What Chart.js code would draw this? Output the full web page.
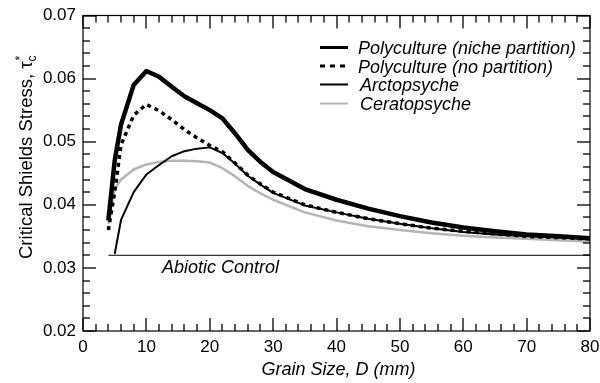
<!DOCTYPE html>
<html lang="en">
<head>
    <meta charset="UTF-8">
    <title>Critical Shields Stress</title>
    <script src="https://cdn.jsdelivr.net/npm/chart.js"></script>
    <style>
        body { margin: 0; background: #fff; }
    </style>
</head>
<body>
    <canvas id="shieldsChart" width="600" height="383"></canvas>

    <script>
    // grain size (mm) and critical Shields stress per treatment
    const grainSize = [4, 5, 6, 8, 10, 12, 14, 16, 18, 20, 22, 24, 26, 28, 30, 35, 40, 45, 50, 55, 60, 65, 70, 75, 80];
    const nichePartition = [0.0375, 0.0470, 0.0527, 0.0590, 0.0612, 0.0603, 0.0587, 0.0572, 0.0561, 0.0550, 0.0537, 0.0513, 0.0487, 0.0468, 0.0452, 0.0425, 0.0408, 0.0394, 0.0382, 0.0372, 0.0364, 0.0358, 0.0353, 0.0350, 0.0347];
    const noPartition = [0.0360, 0.0420, 0.0495, 0.0542, 0.0559, 0.0549, 0.0535, 0.0519, 0.0506, 0.0494, 0.0484, 0.0466, 0.0447, 0.0433, 0.0420, 0.0400, 0.0388, 0.0378, 0.0370, 0.0363, 0.0358, 0.0354, 0.0350, 0.0348, 0.0346];
    const arctopsyche = [null, 0.0322, 0.0376, 0.0420, 0.0448, 0.0463, 0.0477, 0.0485, 0.0489, 0.0491, 0.0482, 0.0465, 0.0446, 0.0432, 0.0419, 0.0399, 0.0388, 0.0378, 0.0370, 0.0363, 0.0357, 0.0353, 0.0350, 0.0348, 0.0346];
    const ceratopsyche = [0.0370, 0.0425, 0.0440, 0.0456, 0.0464, 0.0468, 0.0470, 0.0470, 0.0469, 0.0467, 0.0458, 0.0445, 0.0430, 0.0418, 0.0408, 0.0388, 0.0375, 0.0366, 0.0360, 0.0355, 0.0351, 0.0348, 0.0346, 0.0344, 0.0342];
    const abioticGrain = [4, 80];
    const abioticControl = [0.032, 0.032];

    const legendItems = [
        { label: 'Polyculture (niche partition)', color: '#000', width: 3, dash: [] },
        { label: 'Polyculture (no partition)', color: '#000', width: 3, dash: [5, 5] },
        { label: 'Arctopsyche', color: '#000', width: 2, dash: [] },
        { label: 'Ceratopsyche', color: '#b4b4b4', width: 2, dash: [] }
    ];
    const legendRows = [47.5, 66, 84.5, 103.5];

    const FONT = 'Liberation Sans, Arial, Helvetica, sans-serif';
    Chart.defaults.font.family = FONT;
    Chart.defaults.color = '#000';

    function toPoints(xs, ys) {
        return xs.map((x, i) => ({ x: x, y: ys[i] }));
    }

    const frameAndText = {
        id: 'frameAndText',
        afterDraw(chart) {
            const ctx = chart.ctx;
            const area = chart.chartArea;
            const xs = chart.scales.x;
            const ys = chart.scales.y;
            ctx.save();
            ctx.setLineDash([]);

            // frame
            ctx.strokeStyle = '#000';
            ctx.lineWidth = 1.2;
            ctx.strokeRect(area.left, area.top, area.right - area.left, area.bottom - area.top);

            // inward ticks on all four sides
            ctx.fillStyle = '#000';
            for (let v = 0; v <= 80; v += 2) {
                const px = Math.round(xs.getPixelForValue(v));
                const len = v % 10 === 0 ? 13 : 7;
                ctx.fillRect(px - 0.65, area.bottom - len, 1.3, len);
                ctx.fillRect(px - 0.65, area.top, 1.3, len);
            }
            for (let i = 0; i <= 25; i++) {
                const py = Math.round(ys.getPixelForValue(0.02 + i * 0.002));
                const len = i % 5 === 0 ? 13 : 7;
                ctx.fillRect(area.left, py - 0.65, len, 1.3);
                ctx.fillRect(area.right - len, py - 0.65, len, 1.3);
            }

            // x axis title
            ctx.font = 'italic 18px ' + FONT;
            ctx.textAlign = 'center';
            ctx.textBaseline = 'alphabetic';
            ctx.fillText('Grain Size, D (mm)', (area.left + area.right) / 2 + 2, 375);

            // y axis title with tau sub c, superscript star
            ctx.save();
            ctx.translate(32, 259);
            ctx.rotate(-Math.PI / 2);
            ctx.textAlign = 'left';
            ctx.font = '18.5px ' + FONT;
            const main = 'Critical Shields Stress, \u03c4';
            ctx.fillText(main, 0, 0);
            const w = ctx.measureText(main).width;
            ctx.font = '12px ' + FONT;
            ctx.fillText('c', w, 4);
            ctx.fillText('*', w + 1, -8);
            ctx.restore();

            // abiotic control label
            ctx.font = 'italic 18px ' + FONT;
            ctx.textAlign = 'left';
            ctx.fillText('Abiotic Control', 162, 273);

            // legend
            ctx.font = 'italic 18px ' + FONT;
            legendItems.forEach((item, i) => {
                const y = legendRows[i];
                ctx.beginPath();
                ctx.strokeStyle = item.color;
                ctx.lineWidth = item.width;
                ctx.setLineDash(item.dash);
                ctx.moveTo(320, y);
                ctx.lineTo(348, y);
                ctx.stroke();
                ctx.setLineDash([]);
                ctx.fillText(item.label, i < 2 ? 358 : 360, y + 6.5);
            });

            ctx.restore();
        }
    };

    const ctx = document.getElementById('shieldsChart').getContext('2d');
    const shieldsChart = new Chart(ctx, {
        type: 'line',
        data: {
            datasets: [{
                label: 'Polyculture (niche partition)',
                data: toPoints(grainSize, nichePartition),
                borderColor: '#000',
                borderWidth: 4.5
            }, {
                label: 'Polyculture (no partition)',
                data: toPoints(grainSize, noPartition),
                borderColor: '#000',
                borderWidth: 3.5,
                borderDash: [4, 4]
            }, {
                label: 'Arctopsyche',
                data: toPoints(grainSize, arctopsyche),
                borderColor: '#000',
                borderWidth: 2
            }, {
                label: 'Ceratopsyche',
                data: toPoints(grainSize, ceratopsyche),
                borderColor: '#b4b4b4',
                borderWidth: 2.5
            }, {
                label: 'Abiotic Control',
                data: toPoints(abioticGrain, abioticControl),
                borderColor: '#000',
                borderWidth: 1
            }]
        },
        options: {
            responsive: false,
            animation: false,
            layout: { padding: { top: 15.5, right: 10, left: 0, bottom: 0 } },
            elements: {
                point: { radius: 0 },
                line: { tension: 0, fill: false, borderJoinStyle: 'round' }
            },
            plugins: {
                legend: { display: false },
                tooltip: { enabled: false }
            },
            scales: {
                x: {
                    type: 'linear',
                    min: 0,
                    max: 80,
                    grid: { display: false, drawTicks: false },
                    border: { display: false },
                    ticks: { stepSize: 10, padding: 6, maxRotation: 0, font: { size: 17 }, color: '#000' },
                    afterFit(scale) {
                        scale.height = 52;
                        scale.paddingLeft = 0;
                        scale.paddingRight = 0;
                    }
                },
                y: {
                    min: 0.02,
                    max: 0.07,
                    grid: { display: false, drawTicks: false },
                    border: { display: false },
                    ticks: {
                        stepSize: 0.01,
                        padding: 7,
                        font: { size: 17 },
                        color: '#000',
                        callback: v => v.toFixed(2)
                    },
                    afterFit(scale) {
                        scale.width = 83;
                        scale.paddingTop = 0;
                        scale.paddingBottom = 0;
                    }
                }
            }
        },
        plugins: [frameAndText]
    });
    </script>
</body>
</html>
